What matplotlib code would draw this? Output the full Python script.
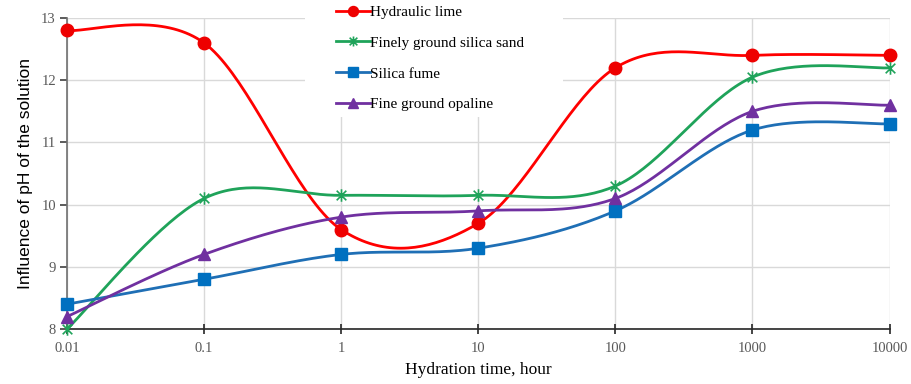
import numpy as np
import matplotlib
matplotlib.use("Agg")
import matplotlib.pyplot as plt
from matplotlib.path import Path
from matplotlib.patches import Rectangle

hours = [0.01, 0.1, 1, 10, 100, 1000, 10000]
tick_labels = ["0.01", "0.1", "1", "10", "100", "1000", "10000"]
hydraulic_lime = [12.8, 12.6, 9.6, 9.7, 12.2, 12.4, 12.4]
silica_sand = [8.0, 10.1, 10.15, 10.15, 10.3, 12.05, 12.2]
silica_fume = [8.4, 8.8, 9.2, 9.3, 9.9, 11.2, 11.3]
opaline = [8.2, 9.2, 9.8, 9.9, 10.1, 11.5, 11.6]

names = ["Hydraulic lime", "Finely ground silica sand", "Silica fume", "Fine ground opaline"]


def smooth(xs, ys, n=40):
    lx = np.log10(np.asarray(xs, float))
    y = np.asarray(ys, float)
    m = len(y)
    ox, oy = [], []
    for i in range(m - 1):
        p0 = (lx[i - 1], y[i - 1]) if i > 0 else (lx[i], y[i])
        p1 = (lx[i], y[i])
        p2 = (lx[i + 1], y[i + 1])
        p3 = (lx[i + 2], y[i + 2]) if i + 2 < m else (lx[i + 1], y[i + 1])
        c1 = (p1[0] + (p2[0] - p0[0]) / 6, p1[1] + (p2[1] - p0[1]) / 6)
        c2 = (p2[0] - (p3[0] - p1[0]) / 6, p2[1] - (p3[1] - p1[1]) / 6)
        t = np.linspace(0, 1, n)
        bx = (1 - t) ** 3 * p1[0] + 3 * (1 - t) ** 2 * t * c1[0] + 3 * (1 - t) * t ** 2 * c2[0] + t ** 3 * p2[0]
        by = (1 - t) ** 3 * p1[1] + 3 * (1 - t) ** 2 * t * c1[1] + 3 * (1 - t) * t ** 2 * c2[1] + t ** 3 * p2[1]
        ox.extend(bx)
        oy.extend(by)
    return 10 ** np.array(ox), np.array(oy)


star = Path([(-1, -1), (1, 1), (-1, 1), (1, -1), (0, -1.3), (0, 1.3)],
            [Path.MOVETO, Path.LINETO, Path.MOVETO, Path.LINETO, Path.MOVETO, Path.LINETO])

series = [
    (hydraulic_lime, "#ff0000", "#ee0000", "o", 9),
    (silica_sand, "#1fa35a", "#1fa35a", star, 9),
    (silica_fume, "#1f6fb5", "#0070c0", "s", 9),
    (opaline, "#7030a0", "#7030a0", "^", 9),
]

fig = plt.figure(figsize=(9.11, 3.84), dpi=100)
ax = fig.add_axes([0.0735, 0.143, 0.903, 0.81])

handles = []
for (vals, lc, mc, mk, ms), name in zip(series, names):
    sx, sy = smooth(hours, vals)
    ax.plot(sx, sy, color=lc, lw=2.0, zorder=3, solid_capstyle="round")
    if mk is star:
        ax.plot(hours, vals, ls="none", marker=mk, ms=ms, mfc="none", mec=mc, mew=1.2, zorder=4)
        h, = ax.plot([], [], color=lc, lw=2.0, marker=mk, ms=ms * 0.8, mfc="none", mec=mc, mew=1.2)
    else:
        ax.plot(hours, vals, ls="none", marker=mk, ms=ms, mfc=mc, mec=mc, zorder=4)
        h, = ax.plot([], [], color=lc, lw=2.0, marker=mk, ms=ms * 0.8, mfc=mc, mec=mc)
    handles.append(h)

ax.set_xscale("log")
ax.set_xlim(0.01, 10000)
ax.set_ylim(8, 13)
ax.set_xticks(hours)
ax.set_xticklabels(tick_labels)
ax.minorticks_off()
ax.set_yticks([8, 9, 10, 11, 12, 13])
ax.grid(True, color="#d9d9d9", lw=1.0)
ax.set_axisbelow(True)
for s in ["top", "right"]:
    ax.spines[s].set_visible(False)
ax.spines["left"].set_color("#707070")
ax.spines["left"].set_linewidth(1.2)
ax.spines["bottom"].set_color("#262626")
ax.spines["bottom"].set_linewidth(1.2)
ax.tick_params(axis="x", direction="inout", length=7, width=1.2, color="#262626",
               labelsize=10.5, labelcolor="#595959", pad=6)
ax.tick_params(axis="y", direction="out", length=5, width=1.2, color="#404040",
               labelsize=10.5, labelcolor="#595959", pad=3)
for lab in ax.get_xticklabels() + ax.get_yticklabels():
    lab.set_family("Liberation Serif")
for ln in ax.lines:
    ln.set_clip_on(False)

ax.set_xlabel("Hydration time, hour", family="Liberation Serif", fontsize=12.5, labelpad=5)
ax.set_ylabel("Influence of pH of the solution", family="Liberation Sans", fontsize=12.5, labelpad=6)

# white background area behind the legend
fig.patches.append(Rectangle((305 / 911, 1 - 117 / 384), (563 - 305) / 911, 117 / 384,
                             transform=fig.transFigure, facecolor="white", edgecolor="none",
                             zorder=9))

leg = fig.legend(handles, names, loc="upper left", bbox_to_anchor=(0.357, 1.014),
                 frameon=False, prop={"family": "Liberation Serif", "size": 11},
                 handlelength=2.2, handletextpad=0.05, labelspacing=1.12, borderpad=0.2)
leg.set_zorder(10)

fig.savefig("out.png", dpi=100)
